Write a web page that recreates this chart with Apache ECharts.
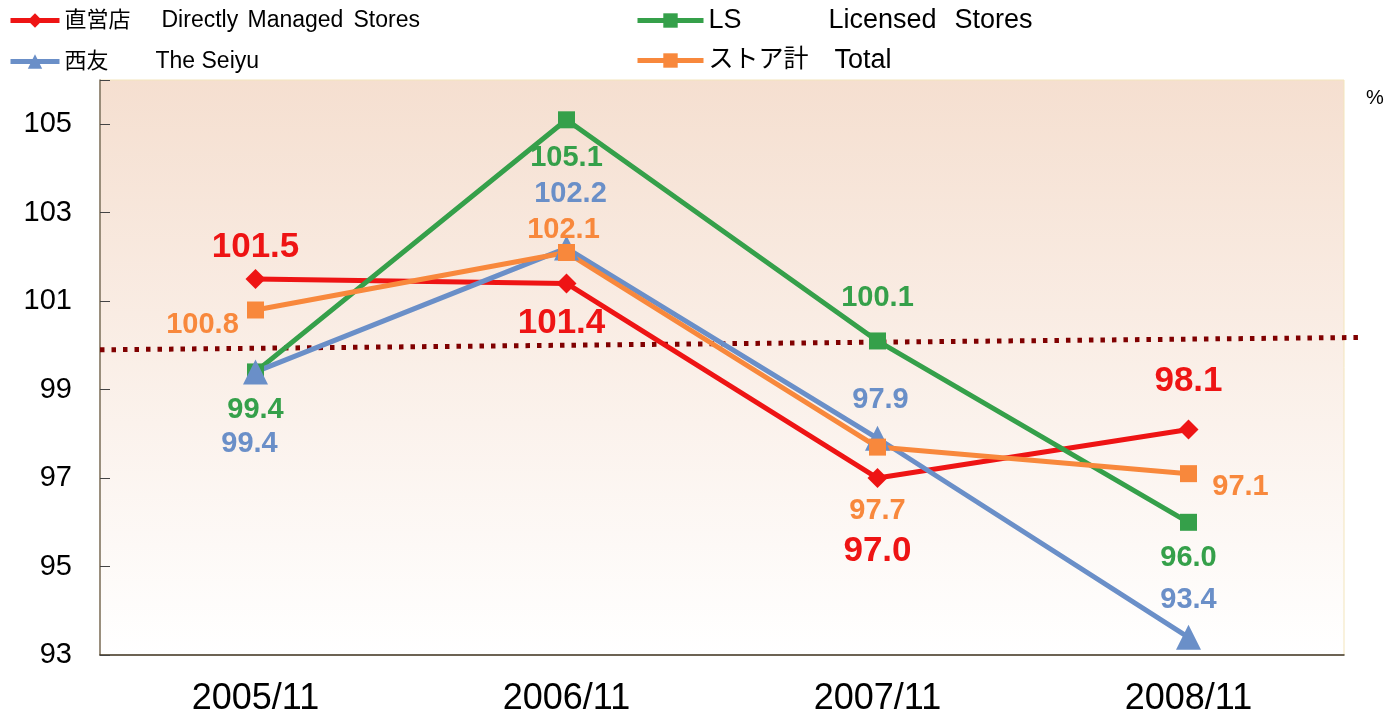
<!DOCTYPE html>
<html>
<head>
<meta charset="utf-8">
<script src="https://cdn.jsdelivr.net/npm/echarts@6/dist/echarts.min.js"></script>
<style>
  html, body { margin: 0; padding: 0; background: #fff; }
  #chart { width: 1395px; height: 715px; }
</style>
</head>
<body>
<div id="chart"></div>
<script>
// 年月
const categories = ['2005/11', '2006/11', '2007/11', '2008/11'];
// 前年比 (%)
const directStores = [101.5, 101.4, 97.0, 98.1];
const licensedStores = [99.4, 105.1, 100.1, 96.0];
const seiyu = [99.4, 102.2, 97.9, 93.4];
const totalStores = [100.8, 102.1, 97.7, 97.1];
// 点線 (100%付近の基準線) 左端・右端
const refLineX = [0, 1];
const refLineY = [99.9, 100.18];
const yTicks = [93, 95, 97, 99, 101, 103, 105];

const FONT = '"Liberation Sans", Arial, "Noto Sans CJK JP", sans-serif';

// ラベルのずらし量（点からのpx）
const offRed = [[0, -32], [-5, 40], [0, 73], [0, -48]];
const offGreen = [[0, 38], [0, 38], [0, -43], [0, 36]];
const offBlue = [[-6, 72], [4, -54], [3, -38], [0, -37]];
const offOrange = [[-53, 15], [-3, -23], [0, 64], [52, 13]];

function withLabels(values, offsets) {
  return values.map((v, i) => ({ value: v, label: { offset: offsets[i] } }));
}

function lineSeries(name, values, offsets, color, symbol, symbolSize, labelSize) {
  return {
    name: name,
    type: 'line',
    data: withLabels(values, offsets),
    symbol: symbol,
    symbolSize: symbolSize,
    lineStyle: { color: color, width: 5 },
    itemStyle: { color: color },
    label: {
      show: true,
      position: 'inside',
      color: color,
      fontSize: labelSize,
      fontWeight: 'bold',
      fontFamily: FONT,
      formatter: (p) => p.value.toFixed(1)
    },
    z: 3
  };
}

// 凡例の文字（語ごとの幅, 文字サイズ）
const legendParts = {
  '直営店': [['直営店', 97, 22], ['Directly', 86, 23], ['Managed', 106, 23], ['Stores', 0, 23]],
  '西友': [['西友', 91, 22], ['The Seiyu', 0, 23]],
  'LS': [['LS', 120, 27], ['Licensed', 126, 27], ['Stores', 0, 27]],
  'ストア計': [['ストア計', 126, 25], ['Total', 0, 27]]
};
const rich = {};
const legendNames = Object.keys(legendParts);
legendNames.forEach((k, i) => {
  legendParts[k].forEach((p, j) => {
    const st = { fontSize: p[2], fontFamily: FONT, color: '#000', lineHeight: 26 };
    if (p[1]) st.width = p[1];
    rich['s' + i + '_' + j] = st;
  });
});
function legendFormatter(name) {
  const i = legendNames.indexOf(name);
  return legendParts[name].map((p, j) => '{s' + i + '_' + j + '|' + p[0] + '}').join('');
}

function legendItem(name, left, top, itemWidth) {
  return {
    data: [name],
    left: left,
    top: top,
    padding: 0,
    itemWidth: itemWidth,
    itemHeight: 18,
    formatter: legendFormatter,
    lineStyle: { width: 5 },
    textStyle: { rich: rich }
  };
}

const chart = echarts.init(document.getElementById('chart'));

const option = {
  animation: false,
  backgroundColor: '#fff',
  legend: [
    legendItem('直営店', 8, 9, 49),
    legendItem('西友', 8, 50, 49),
    legendItem('LS', 635, 7, 66),
    legendItem('ストア計', 635, 47, 66)
  ],
  grid: [
    {
      left: 100,
      right: 51,
      top: 80,
      bottom: 60,
      outerBoundsMode: 'none',
      show: true,
      borderColor: '#F3E5BC',
      borderWidth: 1,
      backgroundColor: new echarts.graphic.LinearGradient(0, 0, 0, 1, [
        { offset: 0, color: '#F5DFD0' },
        { offset: 1, color: '#FFFFFF' }
      ])
    },
    // 点線用（グリッドの右外まで伸びる）
    { left: 100, right: 32, top: 80, bottom: 60, outerBoundsMode: 'none' }
  ],
  xAxis: [
    {
      type: 'category',
      gridIndex: 0,
      data: categories,
      boundaryGap: true,
      axisLine: { lineStyle: { color: '#3E3526', width: 1.5 } },
      axisTick: { inside: true, length: 12, lineStyle: { color: '#777' } },
      axisLabel: { color: '#000', fontSize: 36, fontFamily: FONT, margin: 26 },
      splitLine: { show: false }
    },
    { type: 'value', gridIndex: 1, min: 0, max: 1, show: false }
  ],
  yAxis: [
    {
      type: 'value',
      gridIndex: 0,
      min: 93,
      max: 106,
      interval: 2,
      axisLine: { show: true, lineStyle: { color: '#7A6E5E', width: 1.5 } },
      axisTick: { show: true, inside: true, length: 10, lineStyle: { color: '#444' } },
      axisLabel: {
        color: '#000',
        fontSize: 29,
        fontFamily: FONT,
        margin: 28,
        formatter: (v) => (yTicks.indexOf(v) >= 0 ? String(v) : '')
      },
      splitLine: { show: false }
    },
    { type: 'value', gridIndex: 1, min: 93, max: 106, show: false }
  ],
  graphic: [
    {
      type: 'text',
      left: 1366,
      top: 88,
      style: { text: '%', font: '20px "Liberation Sans", Arial, sans-serif', fill: '#000' }
    }
  ],
  series: [
    {
      name: 'ref',
      type: 'line',
      xAxisIndex: 1,
      yAxisIndex: 1,
      data: refLineX.map((x, i) => [x, refLineY[i]]),
      symbol: 'none',
      clip: false,
      silent: true,
      lineStyle: { color: '#800000', width: 5, type: [4.5, 7], cap: 'butt' },
      z: 2
    },
    lineSeries('直営店', directStores, offRed, '#EE1414', 'diamond', 20, 35),
    lineSeries('LS', licensedStores, offGreen, '#35A04A', 'rect', 17, 29),
    lineSeries('西友', seiyu, offBlue, '#6A8FC8', 'triangle', 25, 29),
    lineSeries('ストア計', totalStores, offOrange, '#F8883C', 'rect', 17, 29)
  ]
};

chart.setOption(option);
window.addEventListener('resize', () => {
  chart.resize();
});
</script>
</body>
</html>
